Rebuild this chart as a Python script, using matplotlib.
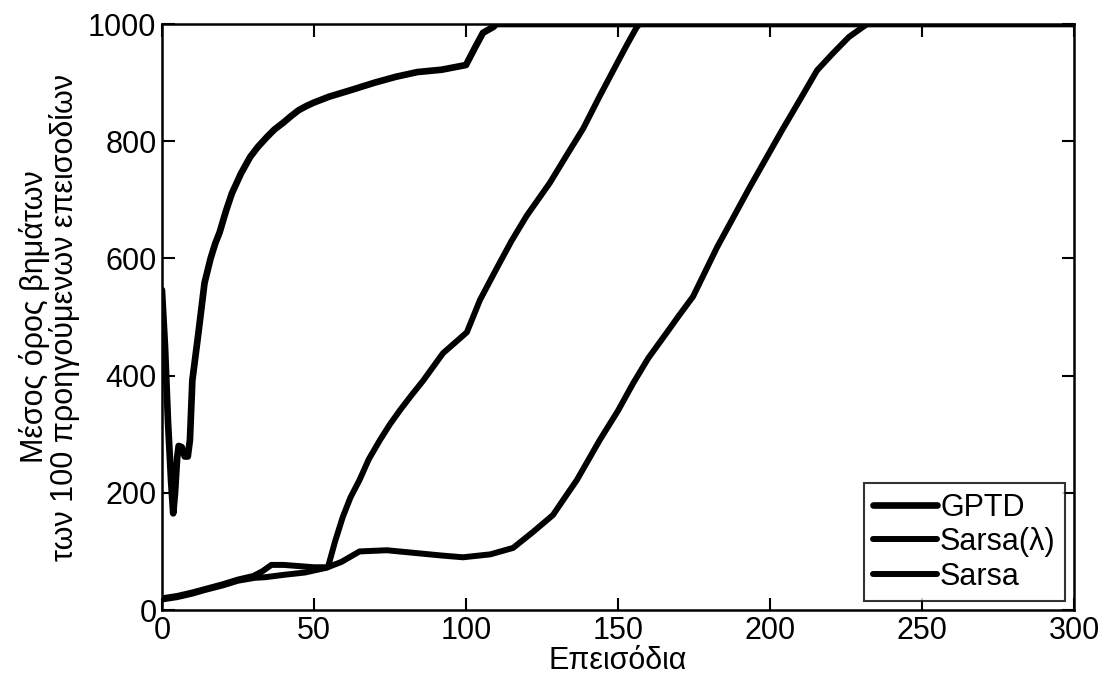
import matplotlib
matplotlib.use("Agg")
import matplotlib.pyplot as plt

plt.rcParams['font.family'] = ['Liberation Sans', 'DejaVu Sans']

# GPTD
gptd_x = [0, 1, 2, 3, 3.7, 4.3, 5, 5.5, 6.5, 7.5, 8.5, 9.2, 10, 12, 14, 16, 17.5, 19, 21,
          23, 26, 29, 31.5, 34.5, 37, 40, 42.5, 45, 47.5, 50, 55, 62, 70, 77, 84, 92, 100,
          103, 105.6, 109, 110, 300]
gptd_y = [546, 450, 320, 220, 165, 200, 260, 280, 278, 262, 262, 290, 392, 473, 558, 600,
          625, 645, 680, 711, 745, 773, 790, 807, 820, 832, 843, 853, 860, 866, 876, 887,
          900, 910, 918, 922, 930, 960, 985, 995, 1000, 1000]

# Sarsa(lambda)
sl_x = [0, 5, 10, 15, 20, 25, 30, 33, 36, 40, 45, 50, 54.6, 57, 59.5, 62, 65, 68, 71.7,
        75, 78.3, 82, 86, 92.4, 100.3, 104.6, 110, 115, 120, 127.6, 133, 138.6, 144,
        149.7, 153, 156, 157, 300]
sl_y = [20, 24, 30, 37, 44, 52, 58, 66, 77, 77, 75, 73, 73, 118, 159, 192, 222, 257, 290,
        317, 341, 366, 392, 438, 474, 529, 582, 630, 673, 729, 775, 822, 877, 933, 965,
        993, 1000, 1000]

# Sarsa
s_x = [0, 5, 10, 14, 20, 25, 30.6, 34, 40, 47, 54, 59, 65, 74, 84, 92, 99, 108, 115.5,
       122, 128.6, 132, 136.5, 144, 150, 155, 160, 166, 170, 174.7, 182.6, 193.4, 204,
       210, 215.5, 220.7, 226, 230.6, 232, 300]
s_y = [18, 22, 28, 34, 42, 50, 55, 56, 60, 64, 72, 82, 100, 102, 97, 93, 90, 95, 106,
       133, 162, 188, 222, 290, 340, 387, 430, 473, 502, 535, 619, 722, 819, 872, 921,
       950, 978, 995, 1000, 1000]

x_ticks = [0, 50, 100, 150, 200, 250, 300]
y_ticks = [0, 200, 400, 600, 800, 1000]

fig = plt.figure(figsize=(11.04, 6.9), dpi=100)
ax = fig.add_axes([0.1467, 0.1159, 0.8261, 0.8493])

ax.plot(gptd_x, gptd_y, color="black", lw=4.8, label="GPTD",
        solid_joinstyle="round", solid_capstyle="round")
ax.plot(sl_x, sl_y, color="black", lw=4.3, label="Sarsa(λ)",
        solid_joinstyle="round", solid_capstyle="round")
ax.plot(s_x, s_y, color="black", lw=4.3, label="Sarsa",
        solid_joinstyle="round", solid_capstyle="round")

ax.set_xlim(0, 300)
ax.set_ylim(0, 1000)
ax.set_xticks(x_ticks)
ax.set_yticks(y_ticks)
ax.tick_params(direction="in", length=9, width=1.5, top=True, right=True,
               labelsize=22, pad=4)
for sp in ax.spines.values():
    sp.set_linewidth(1.8)

ax.set_xlabel("Επεισόδια", fontsize=22, labelpad=0)
ax.set_ylabel("Μέσος όρος βημάτων\nτων 100 προηγούμενων επεισοδίων", fontsize=22,
              labelpad=6, linespacing=0.95)

leg = ax.legend(loc="lower right", fontsize=22, frameon=True, fancybox=False,
                edgecolor="black", handlelength=2.1, handletextpad=0.1,
                borderpad=0.3, labelspacing=0.15, borderaxespad=0.3)
leg.get_frame().set_linewidth(1.5)

fig.savefig("out.png", dpi=100)
